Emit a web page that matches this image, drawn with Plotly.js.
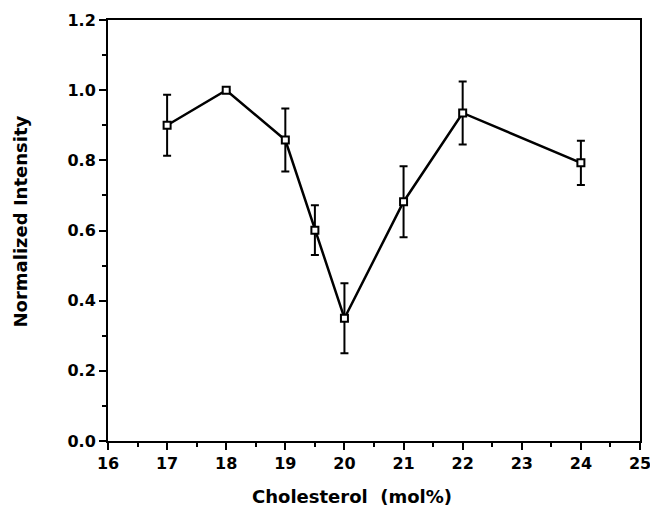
<!DOCTYPE html>
<html>
<head>
<meta charset="utf-8">
<script src="https://cdn.plot.ly/plotly-3.0.1.min.js"></script>
<style>html,body{margin:0;padding:0;background:#fff;}#chart{width:650px;height:519px;}</style>
</head>
<body>
<div id="chart"></div>
<script>
var cholesterol = [17, 18, 19, 19.5, 20, 21, 22, 24];
var intensity = [0.900, 1.000, 0.858, 0.601, 0.350, 0.682, 0.935, 0.793];
var errorBar = [0.087, 0.0, 0.090, 0.071, 0.100, 0.101, 0.090, 0.063];
var xTicks = [16, 17, 18, 19, 20, 21, 22, 23, 24, 25];
var yTicks = [0.0, 0.2, 0.4, 0.6, 0.8, 1.0, 1.2];
var xTitle = 'Cholesterol  (mol%)';
var yTitle = 'Normalized Intensity';

var trace = {
  x: cholesterol,
  y: intensity,
  type: 'scatter',
  mode: 'lines+markers',
  line: {color: '#000', width: 2.5},
  marker: {symbol: 'square', size: 7, color: '#fff', line: {color: '#000', width: 2}},
  error_y: {type: 'data', array: errorBar, visible: true, color: '#000', thickness: 2, width: 4},
  cliponaxis: false,
  showlegend: false
};

var fontFam = 'DejaVu Sans, Arial, sans-serif';
var layout = {
  width: 650, height: 519,
  margin: {l: 108, r: 10, t: 20, b: 78},
  paper_bgcolor: '#fff', plot_bgcolor: '#fff',
  font: {family: fontFam, color: '#000'},
  xaxis: {
    range: [16, 25],
    tickvals: xTicks,
    ticktext: xTicks.map(String),
    ticklabeloverflow: 'allow',
    ticks: 'outside', ticklen: 7, tickwidth: 2, tickcolor: '#000',
    minor: {dtick: 0.5, ticks: 'outside', ticklen: 4, tickwidth: 2, tickcolor: '#000', showgrid: false},
    showline: true, linecolor: '#000', linewidth: 2, mirror: true,
    showgrid: false, zeroline: false,
    tickfont: {size: 16, family: fontFam, weight: 'bold'}
  },
  yaxis: {
    range: [0, 1.2],
    tickvals: yTicks,
    ticktext: yTicks.map(function(v){return v.toFixed(1);}),
    ticks: 'outside', ticklen: 7, tickwidth: 2, tickcolor: '#000',
    minor: {dtick: 0.1, ticks: 'outside', ticklen: 4, tickwidth: 2, tickcolor: '#000', showgrid: false},
    showline: true, linecolor: '#000', linewidth: 2, mirror: true,
    showgrid: false, zeroline: false,
    tickfont: {size: 16, family: fontFam, weight: 'bold'}
  },
  annotations: [
    {text: xTitle, xref: 'paper', yref: 'paper', x: 0.4586, y: -0.133,
     xanchor: 'center', yanchor: 'middle', showarrow: false,
     font: {size: 18, family: fontFam, weight: 'bold', color: '#000'}},
    {text: yTitle, xref: 'paper', yref: 'paper', x: -0.1654, y: 0.5214,
     xanchor: 'center', yanchor: 'middle', textangle: -90, showarrow: false,
     font: {size: 18, family: fontFam, weight: 'bold', color: '#000'}}
  ]
};

Plotly.newPlot('chart', [trace], layout, {displayModeBar: false, staticPlot: true});
</script>
</body>
</html>
